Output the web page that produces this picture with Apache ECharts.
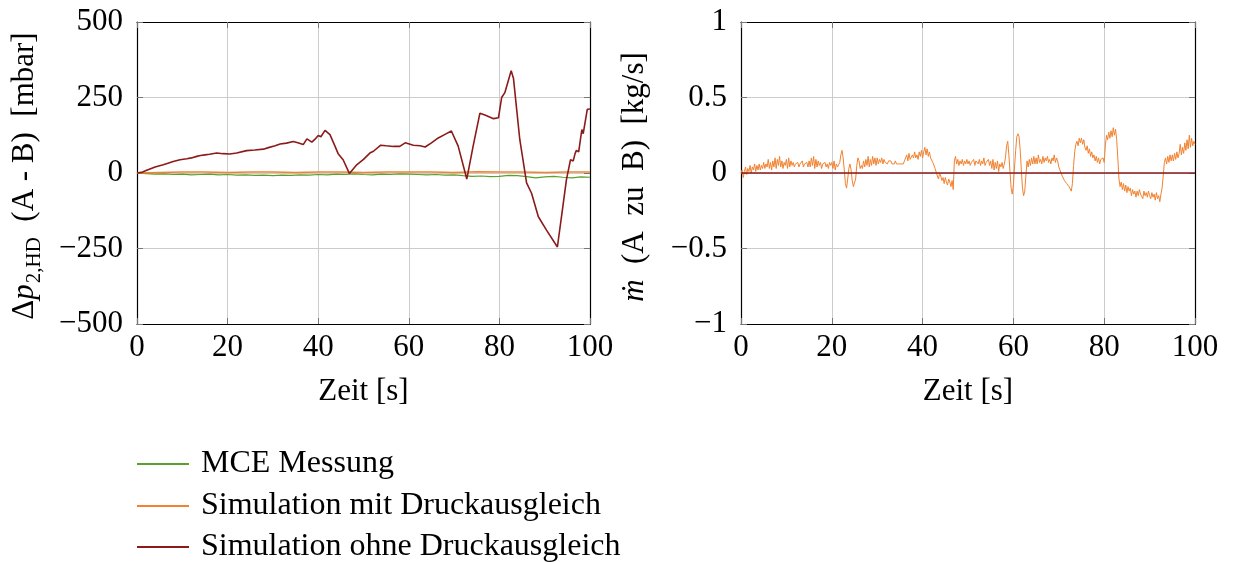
<!DOCTYPE html>
<html>
<head>
<meta charset="utf-8">
<script src="https://cdn.jsdelivr.net/npm/echarts@6/dist/echarts.min.js"></script>
<style>
  html, body { margin: 0; padding: 0; background: #fff; }
  #chart { width: 1235px; height: 562px; }
</style>
</head>
<body>
<div id="chart"></div>
<script>
// Pressure difference between chamber A and B [mbar], and mass flow A -> B [kg/s]
const seriesNames = ['MCE Messung', 'Simulation mit Druckausgleich', 'Simulation ohne Druckausgleich'];
const colors = ['#5aa02c', '#f28230', '#8b1a1a'];

const xTicks = [0, 20, 40, 60, 80, 100];
const dpTicks = [-500, -250, 0, 250, 500];
const mdotTicks = [-1, -0.5, 0, 0.5, 1];

// Measured pressure difference, sampled every 2 s
const measStep = 2;
const measDp = [0, -2, -4, -3, -5, -4, -6, -5, -4, -6, -5, -7, -6, -8, -7, -9, -7, -8, -6, -7,
  -5, -6, -4, -5, -3, -5, -6, -4, -5, -3, -4, -5, -6, -5, -7, -6, -9, -11, -10, -12,
  -11, -8, -9, -12, -16, -13, -11, -14, -16, -13, -14];

// Simulation with pressure equalisation, sampled every 5 s
const simEqStep = 5;
const simEqDp = [0, 2, 3, 3, 2, 3, 3, 2, 3, 3, 2, 3, 3, 3, 2, 4, 3, 3, 2, 3, 3];

// Simulation without pressure equalisation (time [s], value [mbar])
const simNoEqT = [0, 1, 2, 3, 4, 5, 5.8, 7, 8, 9.5, 11, 12, 13.2, 14, 15, 16, 17.6, 19, 20.5, 22,
  24.2, 26, 27.9, 29, 30.5, 31.6, 33, 34.5, 35.5, 36.7, 37.5, 38.6, 39.3, 40, 40.6, 41.5, 42.6, 43.7, 44.4, 45.5,
  46.9, 48.5, 50, 51.4, 52.2, 53.8, 55, 56.6, 58, 59.2, 61, 62.5, 63.6, 65, 66.5, 68, 69.4, 69.8, 70.9, 72.8,
  74.2, 75.7, 76.8, 78.7, 79.8, 80.5, 81.2, 82.6, 83.1, 84.5, 86, 87.1, 88.6, 90.4, 92.8, 93.7, 94.8, 95.7, 96.3, 96.7,
  97, 97.5, 98.2, 98.5, 99.4, 100];
const simNoEqDp = [0, 2, 8, 14, 20, 24, 27, 33, 38, 44, 47, 50, 55, 58, 60, 62, 66, 64, 63, 66,
  74, 76, 79, 84, 90, 96, 99, 104, 100, 94, 113, 102, 112, 124, 120, 141, 127, 89, 64, 44,
  -2, 27, 45, 66, 72, 92, 90, 88, 88, 100, 92, 90, 86, 100, 116, 128, 139, 135, 89, -20,
  89, 198, 192, 180, 183, 250, 266, 339, 314, 111, -33, -67, -145, -189, -245, -145, -22, 44, 40, 64,
  75, 70, 144, 130, 211, 212];

// Mass flow with pressure equalisation, sampled every 0.25 s [kg/s] (one row = 5 s)
const flowStep = 0.25;
const flowEq = [
  0.00, 0.02, -0.03, 0.01, 0.04, -0.01, 0.03, 0.01, 0.05, 0.00, 0.04, 0.02, 0.06, 0.01, 0.05, 0.02, 0.06, 0.02, 0.05, 0.03,
  0.07, 0.03, 0.06, 0.04, 0.09, 0.03, 0.07, 0.02, 0.08, 0.04, 0.10, 0.03, 0.09, 0.05, 0.11, 0.04, 0.08, 0.03, 0.07, 0.05,
  0.09, 0.03, 0.10, 0.04, 0.08, 0.05, 0.07, 0.04, 0.06, 0.05, 0.07, 0.04, 0.06, 0.05, 0.08, 0.04, 0.06, 0.05, 0.07, 0.04,
  0.08, 0.04, 0.10, 0.05, 0.11, 0.03, 0.09, 0.04, 0.08, 0.05, 0.07, 0.03, 0.06, 0.05, 0.07, 0.04, 0.06, 0.03, 0.07, 0.05,
  0.07, 0.03, 0.08, 0.02, 0.06, 0.04, 0.03, 0.07, 0.12, 0.15, 0.10, 0.02, -0.07, -0.10, -0.04, 0.03, 0.06, 0.02, -0.05, -0.09,
  -0.10, -0.04, 0.05, 0.10, 0.08, 0.03, 0.05, 0.03, 0.08, 0.04, 0.09, 0.05, 0.11, 0.04, 0.09, 0.05, 0.11, 0.06, 0.10, 0.05,
  0.10, 0.06, 0.09, 0.07, 0.10, 0.06, 0.09, 0.07, 0.08, 0.06, 0.08, 0.07, 0.08, 0.06, 0.07, 0.06, 0.08, 0.06, 0.07, 0.06,
  0.07, 0.06, 0.07, 0.06, 0.08, 0.07, 0.12, 0.08, 0.13, 0.09, 0.08, 0.12, 0.10, 0.14, 0.10, 0.12, 0.09, 0.14, 0.11, 0.15,
  0.10, 0.14, 0.17, 0.12, 0.16, 0.11, 0.14, 0.10, 0.11, 0.07, 0.06, 0.03, 0.02, -0.02, -0.04, 0.00, -0.02, -0.05, -0.03, -0.07,
  -0.03, -0.06, -0.08, -0.04, -0.06, -0.09, -0.05, -0.11, 0.08, 0.11, 0.06, 0.09, 0.05, 0.08, 0.06, 0.09, 0.05, 0.08, 0.06, 0.09,
  0.06, 0.08, 0.05, 0.07, 0.06, 0.09, 0.05, 0.08, 0.07, 0.06, 0.09, 0.05, 0.08, 0.06, 0.10, 0.05, 0.07, 0.06, 0.09, 0.05,
  0.08, 0.03, 0.09, 0.02, 0.07, 0.03, 0.08, 0.01, 0.06, 0.04, 0.07, 0.03, 0.06, 0.10, 0.18, 0.21, 0.12, 0.01, -0.10, -0.14,
  -0.08, 0.04, 0.15, 0.24, 0.26, 0.24, 0.15, 0.02, -0.10, -0.15, -0.12, -0.02, 0.08, 0.04, 0.09, 0.05, 0.10, 0.06, 0.11, 0.06,
  0.10, 0.06, 0.12, 0.07, 0.09, 0.06, 0.11, 0.07, 0.10, 0.08, 0.11, 0.07, 0.09, 0.06, 0.10, 0.08, 0.12, 0.07, 0.10, 0.08,
  0.04, 0.02, 0.00, -0.02, -0.03, -0.05, -0.04, -0.07, -0.06, -0.09, -0.08, -0.12, -0.07, 0.05, 0.14, 0.19, 0.21, 0.18, 0.23, 0.20,
  0.23, 0.19, 0.22, 0.17, 0.15, 0.18, 0.13, 0.16, 0.11, 0.14, 0.10, 0.12, 0.08, 0.11, 0.07, 0.10, 0.06, 0.09, 0.08, 0.10,
  0.07, 0.18, 0.25, 0.22, 0.27, 0.23, 0.28, 0.24, 0.30, 0.25, 0.29, 0.22, 0.10, -0.04, -0.09, -0.06, -0.11, -0.07, -0.12, -0.08,
  -0.13, -0.09, -0.12, -0.10, -0.15, -0.11, -0.14, -0.12, -0.16, -0.12, -0.15, -0.11, -0.14, -0.13, -0.17, -0.12, -0.15, -0.13, -0.16, -0.12,
  -0.15, -0.17, -0.13, -0.16, -0.14, -0.18, -0.13, -0.17, -0.15, -0.19, -0.14, -0.10, -0.02, 0.07, 0.10, 0.06, 0.11, 0.07, 0.12, 0.08,
  0.12, 0.08, 0.13, 0.09, 0.14, 0.10, 0.13, 0.19, 0.12, 0.17, 0.13, 0.20, 0.15, 0.22, 0.16, 0.25, 0.17, 0.23, 0.18, 0.21,
  0.19];

// Mass flow without pressure equalisation (closed connection)
const flowNoEqT = [0, 100];
const flowNoEq = [0, 0];

const FONT = '"Liberation Serif", "DejaVu Serif", serif';
const FS = 31;
const GAP = '\u2002';

function sampled(step, values) {
  return values.map((v, i) => [i * step, v]);
}
function paired(ts, values) {
  return ts.map((t, i) => [t, values[i]]);
}
function fmtNum(v) {
  return v < 0 ? '\u2212' + String(-v) : String(v);
}

const gridLine = { show: true, lineStyle: { color: '#cccccc', width: 1 } };
const frameLine = { show: true, onZero: false, lineStyle: { color: '#000', width: 1.2 } };
const tickIn = { show: true, inside: true, length: 6, lineStyle: { color: '#777', width: 1 } };

function xAxisDef(gridIndex, pos) {
  const main = pos === 'bottom';
  return {
    type: 'value', gridIndex, position: pos, min: xTicks[0], max: xTicks[xTicks.length - 1], interval: 20,
    axisLine: frameLine, axisTick: tickIn,
    splitLine: main ? gridLine : { show: false },
    axisLabel: main ? { show: true, margin: 8, color: '#000', fontFamily: FONT, fontSize: FS } : { show: false },
    name: main ? 'Zeit [s]' : '', nameLocation: 'middle', nameGap: 52,
    nameTextStyle: { color: '#000', fontFamily: FONT, fontSize: FS }
  };
}
function yAxisDef(gridIndex, pos, min, max, interval) {
  const main = pos === 'left';
  return {
    type: 'value', gridIndex, position: pos, min, max, interval,
    axisLine: frameLine, axisTick: tickIn,
    splitLine: main ? gridLine : { show: false },
    axisLabel: main ? { show: true, margin: 14, color: '#000', fontFamily: FONT, fontSize: FS, formatter: fmtNum } : { show: false }
  };
}
// one legend block per entry, stacked below the left panel
function legendRow(i, top) {
  return {
    data: [seriesNames[i]],
    orient: 'vertical',
    left: 137, top, padding: 0,
    icon: 'rect', itemWidth: 52, itemHeight: 2,
    textStyle: { color: '#000', fontFamily: FONT, fontSize: 32, lineHeight: 32, padding: [0, 0, 0, 7] }
  };
}

const chart = echarts.init(document.getElementById('chart'), null, { renderer: 'canvas' });

const option = {
  backgroundColor: '#fff',
  animation: false,
  grid: [
    { left: 137, top: 22, width: 453, height: 302 },
    { left: 741, top: 22, width: 454, height: 302 }
  ],
  xAxis: [
    xAxisDef(0, 'bottom'), xAxisDef(1, 'bottom'),
    xAxisDef(0, 'top'), xAxisDef(1, 'top')
  ],
  yAxis: [
    yAxisDef(0, 'left', dpTicks[0], dpTicks[dpTicks.length - 1], 250),
    yAxisDef(1, 'left', mdotTicks[0], mdotTicks[mdotTicks.length - 1], 0.5),
    yAxisDef(0, 'right', dpTicks[0], dpTicks[dpTicks.length - 1], 250),
    yAxisDef(1, 'right', mdotTicks[0], mdotTicks[mdotTicks.length - 1], 0.5)
  ],
  legend: [legendRow(0, 448), legendRow(1, 490), legendRow(2, 531)],
  graphic: [
    {
      type: 'text', x: 27, y: 176, rotation: Math.PI / 2,
      style: {
        text: '{n|\u0394}{i|p}{s|2,HD}{n|' + GAP + '(A - B)' + GAP + '[mbar]}',
        align: 'center', verticalAlign: 'middle', fill: '#000',
        fontFamily: FONT, fontSize: FS,
        rich: {
          n: { fontFamily: FONT, fontSize: FS, verticalAlign: 'top', lineHeight: 32 },
          i: { fontFamily: FONT, fontSize: FS, fontStyle: 'italic', verticalAlign: 'top', lineHeight: 32 },
          s: { fontFamily: FONT, fontSize: 21, verticalAlign: 'top', padding: [14, 0, 0, 1] }
        }
      }
    },
    {
      type: 'text', x: 635, y: 177, rotation: Math.PI / 2,
      style: {
        text: '{i|\u1E41}{n|' + GAP + '(A' + GAP + 'zu' + GAP + 'B)' + GAP + '[kg/s]}',
        align: 'center', verticalAlign: 'middle', fill: '#000',
        fontFamily: FONT, fontSize: FS,
        rich: {
          n: { fontFamily: FONT, fontSize: FS },
          i: { fontFamily: FONT, fontSize: FS, fontStyle: 'italic' }
        }
      }
    }
  ],
  series: [
    {
      name: seriesNames[0], type: 'line', xAxisIndex: 0, yAxisIndex: 0,
      data: sampled(measStep, measDp), showSymbol: false, symbol: 'none',
      lineStyle: { color: colors[0], width: 1.2 }, itemStyle: { color: colors[0] }
    },
    {
      name: seriesNames[1], type: 'line', xAxisIndex: 0, yAxisIndex: 0,
      data: sampled(simEqStep, simEqDp), showSymbol: false, symbol: 'none',
      lineStyle: { color: colors[1], width: 1.5 }, itemStyle: { color: colors[1] }
    },
    {
      name: seriesNames[2], type: 'line', xAxisIndex: 0, yAxisIndex: 0,
      data: paired(simNoEqT, simNoEqDp), showSymbol: false, symbol: 'none',
      lineStyle: { color: colors[2], width: 1.6 }, itemStyle: { color: colors[2] }
    },
    {
      name: seriesNames[1], type: 'line', xAxisIndex: 1, yAxisIndex: 1,
      data: sampled(flowStep, flowEq), showSymbol: false, symbol: 'none',
      lineStyle: { color: colors[1], width: 1 }, itemStyle: { color: colors[1] }
    },
    {
      name: seriesNames[2], type: 'line', xAxisIndex: 1, yAxisIndex: 1,
      data: paired(flowNoEqT, flowNoEq), showSymbol: false, symbol: 'none',
      lineStyle: { color: colors[2], width: 1.5 }, itemStyle: { color: colors[2] }
    }
  ]
};

chart.setOption(option);
</script>
</body>
</html>
